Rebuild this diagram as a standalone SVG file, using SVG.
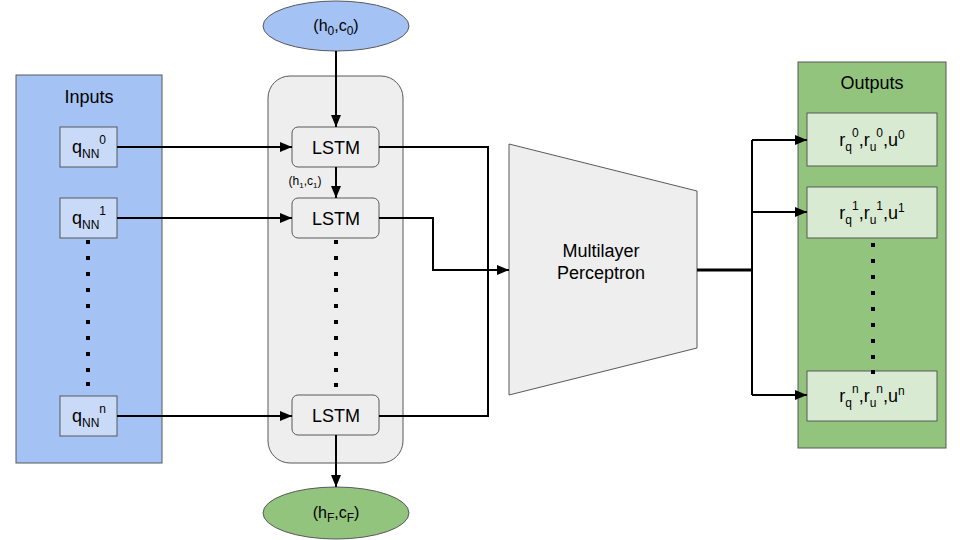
<svg xmlns="http://www.w3.org/2000/svg" width="960" height="540" viewBox="0 0 960 540">
<defs>
<style>
text{font-family:"Liberation Sans",Arial,sans-serif;fill:#000;}
.lbl{font-size:18px;text-anchor:middle;}
.sm{font-size:12px;}
.panelB{fill:#a4c2f4;stroke:#595959;stroke-width:1;}
.boxB{fill:#c9daf8;stroke:#595959;stroke-width:1;}
.panelG{fill:#93c47d;stroke:#595959;stroke-width:1;}
.boxG{fill:#d9ead3;stroke:#595959;stroke-width:1;}
.grey{fill:#eeeeee;stroke:#595959;stroke-width:1;}
.ln{fill:none;stroke:#000;stroke-width:2;}
.dot{fill:#000;}
</style>
<marker id="ah" viewBox="0 0 12 10" refX="12" refY="5" markerWidth="6" markerHeight="5" orient="auto" markerUnits="strokeWidth">
<path d="M0,0 L12,5 L0,10 z" fill="#000"/>
</marker>
</defs>
<rect width="960" height="540" fill="#fff"/>

<g id="inputs">
<rect class="panelB" x="16" y="75" width="146" height="388"/>
<text class="lbl" x="89" y="103">Inputs</text>
</g>
<g id="qnn0">
<rect class="boxB" x="60" y="127" width="57" height="40"/>
<text class="lbl" x="89" y="153">q<tspan class="sm" dy="5">NN</tspan><tspan class="sm" dy="-14">0</tspan></text>
</g>
<g id="qnn1">
<rect class="boxB" x="60" y="198" width="57" height="40"/>
<text class="lbl" x="89" y="224">q<tspan class="sm" dy="5">NN</tspan><tspan class="sm" dy="-14">1</tspan></text>
</g>
<g id="qnnn">
<rect class="boxB" x="60" y="396" width="57" height="40"/>
<text class="lbl" x="89" y="422">q<tspan class="sm" dy="5">NN</tspan><tspan class="sm" dy="-14">n</tspan></text>
</g>
<g id="inputDots">
<rect class="dot" x="86" y="240" width="4" height="4"/>
<rect class="dot" x="86" y="256" width="4" height="4"/>
<rect class="dot" x="86" y="272" width="4" height="4"/>
<rect class="dot" x="86" y="288" width="4" height="4"/>
<rect class="dot" x="86" y="304" width="4" height="4"/>
<rect class="dot" x="86" y="320" width="4" height="4"/>
<rect class="dot" x="86" y="336" width="4" height="4"/>
<rect class="dot" x="86" y="352" width="4" height="4"/>
<rect class="dot" x="86" y="368" width="4" height="4"/>
<rect class="dot" x="86" y="382" width="4" height="4"/>
</g>

<g id="lstmContainer">
<rect class="grey" x="268" y="76" width="135" height="387" rx="22"/>
</g>
<g id="h0c0">
<ellipse class="panelB" cx="336" cy="26" rx="73" ry="25"/>
<text x="336" y="31" style="font-size:16px;text-anchor:middle">(h<tspan class="sm" dy="4">0</tspan><tspan dy="-4">,c</tspan><tspan class="sm" dy="4">0</tspan><tspan dy="-4">)</tspan></text>
</g>
<g id="lstm1">
<rect class="grey" x="292" y="127" width="87" height="40" rx="6"/>
<text class="lbl" x="336" y="154">LSTM</text>
</g>
<g id="lstm2">
<rect class="grey" x="292" y="198" width="87" height="40" rx="6"/>
<text class="lbl" x="336" y="225">LSTM</text>
</g>
<g id="lstmn">
<rect class="grey" x="292" y="395" width="87" height="40" rx="6"/>
<text class="lbl" x="336" y="422">LSTM</text>
</g>
<g id="h1c1">
<text x="305" y="185" style="font-size:12px;text-anchor:middle">(h<tspan style="font-size:8px" dy="3">1</tspan><tspan dy="-3">,c</tspan><tspan style="font-size:8px" dy="3">1</tspan><tspan dy="-3">)</tspan></text>
</g>
<g id="lstmDots">
<rect class="dot" x="334" y="240" width="4" height="4"/>
<rect class="dot" x="334" y="256" width="4" height="4"/>
<rect class="dot" x="334" y="272" width="4" height="4"/>
<rect class="dot" x="334" y="288" width="4" height="4"/>
<rect class="dot" x="334" y="304" width="4" height="4"/>
<rect class="dot" x="334" y="320" width="4" height="4"/>
<rect class="dot" x="334" y="336" width="4" height="4"/>
<rect class="dot" x="334" y="352" width="4" height="4"/>
<rect class="dot" x="334" y="368" width="4" height="4"/>
<rect class="dot" x="334" y="383" width="4" height="4"/>
</g>
<g id="hFcF">
<ellipse class="panelG" cx="336" cy="513" rx="73" ry="26"/>
<text x="336" y="518" style="font-size:16px;text-anchor:middle">(h<tspan class="sm" dy="4">F</tspan><tspan dy="-4">,c</tspan><tspan class="sm" dy="4">F</tspan><tspan dy="-4">)</tspan></text>
</g>

<g id="mlp">
<polygon class="grey" points="509,144 697,191 697,348 509,395"/>
<text class="lbl" x="601" y="257">Multilayer</text>
<text class="lbl" x="601" y="279">Perceptron</text>
</g>

<g id="outputs">
<rect class="panelG" x="798" y="62" width="148" height="386"/>
<text class="lbl" x="872" y="89">Outputs</text>
</g>
<g id="out0">
<rect class="boxG" x="807" y="113" width="130" height="53"/>
<text class="lbl" x="872" y="146">r<tspan class="sm" dy="5">q</tspan><tspan class="sm" dy="-14">0</tspan><tspan dy="9">,r</tspan><tspan class="sm" dy="5">u</tspan><tspan class="sm" dy="-14">0</tspan><tspan dy="9">,u</tspan><tspan class="sm" dy="-7">0</tspan></text>
</g>
<g id="out1">
<rect class="boxG" x="807" y="187" width="130" height="51"/>
<text class="lbl" x="872" y="219">r<tspan class="sm" dy="5">q</tspan><tspan class="sm" dy="-14">1</tspan><tspan dy="9">,r</tspan><tspan class="sm" dy="5">u</tspan><tspan class="sm" dy="-14">1</tspan><tspan dy="9">,u</tspan><tspan class="sm" dy="-7">1</tspan></text>
</g>
<g id="outn">
<rect class="boxG" x="807" y="371" width="130" height="50"/>
<text class="lbl" x="872" y="402">r<tspan class="sm" dy="5">q</tspan><tspan class="sm" dy="-14">n</tspan><tspan dy="9">,r</tspan><tspan class="sm" dy="5">u</tspan><tspan class="sm" dy="-14">n</tspan><tspan dy="9">,u</tspan><tspan class="sm" dy="-7">n</tspan></text>
</g>
<g id="outDots">
<rect class="dot" x="871" y="243" width="4" height="4"/>
<rect class="dot" x="871" y="259" width="4" height="4"/>
<rect class="dot" x="871" y="275" width="4" height="4"/>
<rect class="dot" x="871" y="291" width="4" height="4"/>
<rect class="dot" x="871" y="307" width="4" height="4"/>
<rect class="dot" x="871" y="323" width="4" height="4"/>
<rect class="dot" x="871" y="339" width="4" height="4"/>
<rect class="dot" x="871" y="355" width="4" height="4"/>
<rect class="dot" x="871" y="370" width="4" height="4"/>
</g>

<g id="connectors">
<path class="ln" d="M117,147 H292" marker-end="url(#ah)"/>
<path class="ln" d="M117,218 H292" marker-end="url(#ah)"/>
<path class="ln" d="M117,416 H292" marker-end="url(#ah)"/>
<path class="ln" d="M336,51 V127" marker-end="url(#ah)"/>
<path class="ln" d="M336,167 V198" marker-end="url(#ah)"/>
<path class="ln" d="M336,435 V487" marker-end="url(#ah)"/>
<path class="ln" d="M379,147 H488 V416 H379"/>
<path class="ln" d="M379,218 H433 V270 H509" marker-end="url(#ah)"/>
<path class="ln" d="M697,270 H752" style="stroke-width:3"/>
<path class="ln" d="M752,140 V395"/>
<path class="ln" d="M752,140 H807" marker-end="url(#ah)"/>
<path class="ln" d="M752,212 H807" marker-end="url(#ah)"/>
<path class="ln" d="M752,395 H807" marker-end="url(#ah)"/>
</g>
</svg>
